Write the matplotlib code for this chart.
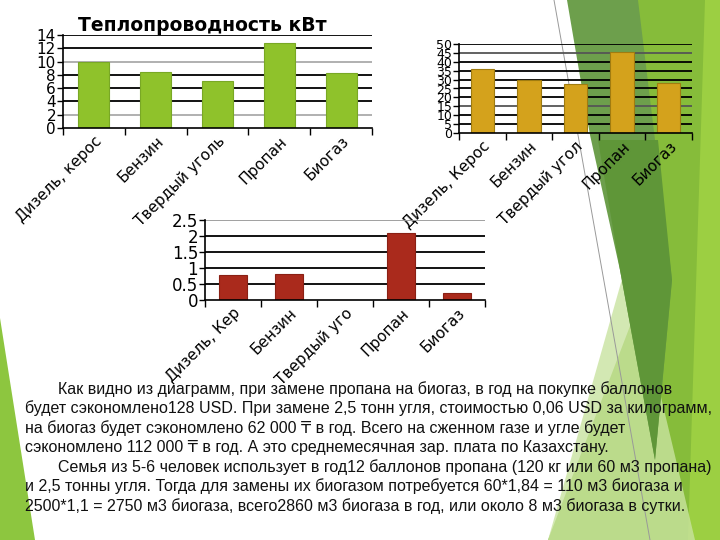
import matplotlib
matplotlib.use("Agg")
import matplotlib.pyplot as plt
from matplotlib.patches import Polygon

W, H = 720, 540

# chart data
categories_heat = ["Дизель, керос", "Бензин", "Твердый уголь", "Пропан", "Биогаз"]
heat_kw = [10, 8.5, 7.1, 12.8, 8.3]
heat_ticks = [0, 2, 4, 6, 8, 10, 12, 14]

categories_mid = ["Дизель, Керос", "Бензин", "Твердый угол", "Пропан", "Биогаз"]
mid_values = [36, 30, 27.5, 45.7, 28]
mid_ticks = [0, 5, 10, 15, 20, 25, 30, 35, 40, 45, 50]

categories_low = ["Дизель, Кер", "Бензин", "Твердый уго", "Пропан", "Биогаз"]
low_values = [0.78, 0.81, 0, 2.1, 0.21]
low_ticks = [0, 0.5, 1, 1.5, 2, 2.5]
low_tick_labels = ["0", "0.5", "1", "1.5", "2", "2.5"]

body_lines = [
    "Как видно из диаграмм, при замене пропана на биогаз, в год на покупке баллонов",
    "будет сэкономлено128 USD. При замене 2,5 тонн угля, стоимостью 0,06 USD за килограмм,",
    "на биогаз будет сэкономлено 62 000 ₸ в год. Всего на сженном газе и угле будет",
    "сэкономлено 112 000 ₸ в год. А это среднемесячная зар. плата по Казахстану.",
    "Семья из 5-6 человек использует в год12 баллонов пропана (120 кг или 60 м3 пропана)",
    "и 2,5 тонны угля. Тогда для замены их биогазом потребуется 60*1,84 = 110 м3 биогаза и",
    "2500*1,1 = 2750 м3 биогаза, всего2860 м3 биогаза в год, или около 8 м3 биогаза в сутки.",
]
body_indent = [True, False, False, False, True, False, False]


def px_axes(fig, left, top, right, bottom):
    return fig.add_axes([left / W, 1 - bottom / H, (right - left) / W, (bottom - top) / H])


def draw_bars(ax, cats, vals, ticks, tick_labels, ymax, color, edge, grid_colors, label_size, ytick_size):
    x = list(range(len(cats)))
    ax.set_facecolor("none")
    for t, gc in zip(ticks[1:], grid_colors):
        ax.axhline(t, color=gc, lw=1.3, zorder=1)
    ax.bar(x, vals, width=0.5, color=color, edgecolor=edge, lw=0.8, zorder=2)
    ax.set_xlim(-0.5, len(cats) - 0.5)
    ax.set_ylim(0, ymax)
    ax.set_yticks(ticks)
    ax.set_yticklabels(tick_labels, fontsize=ytick_size)
    ax.set_xticks([i - 0.5 for i in range(len(cats) + 1)])
    ax.set_xticklabels([])
    ax.set_xticks(x, minor=True)
    ax.set_xticklabels(cats, minor=True, rotation=45, ha="right", va="top",
                       rotation_mode="anchor", fontsize=label_size)
    ax.tick_params(axis="x", which="minor", length=0, pad=4)
    ax.tick_params(axis="x", which="major", length=5, width=1, direction="out")
    ax.tick_params(axis="y", length=4, width=1, pad=1)
    for s in ["top", "right"]:
        ax.spines[s].set_visible(False)
    for s in ["left", "bottom"]:
        ax.spines[s].set_linewidth(1.2)
        ax.spines[s].set_color("black")


fig = plt.figure(figsize=(7.2, 5.4), dpi=100)

# slide decoration
deco = fig.add_axes([0, 0, 1, 1])
deco.set_xlim(0, W)
deco.set_ylim(H, 0)
deco.axis("off")
shapes = [
    ([(637, 0), (720, 0), (720, 540), (548, 540), (640, 300)], "#86bc3a", 1),
    ([(705, 0), (720, 0), (720, 540), (688, 540)], "#9ccf42", 1),
    ([(628, 258), (695, 540), (548, 540)], "#c9e3a0", 0.8),
    ([(555, 0), (638, 0), (672, 280), (655, 460), (620, 270), (590, 135), (567, 0)], "#6d9f4c", 1),
    ([(598, 140), (658, 140), (672, 280), (655, 460), (620, 270)], "#5f9638", 1),
    ([(0, 318), (35, 540), (0, 540)], "#8dc63f", 1),
]
for pts, c, a in shapes:
    deco.add_patch(Polygon(pts, closed=True, color=c, alpha=a, lw=0))
deco.plot([554, 650], [0, 540], color="#999999", lw=0.7)

# body text
for i, line in enumerate(body_lines):
    x0 = 58 if body_indent[i] else 25
    deco.text(x0, 389 + i * 19.5, line, fontsize=11.5,
              family=["Liberation Sans", "DejaVu Sans"],
              color="#111111", va="center", ha="left")

# chart 1
ax1 = px_axes(fig, 63, 35, 372, 128)
draw_bars(ax1, categories_heat, heat_kw, heat_ticks, [str(t) for t in heat_ticks], 14,
          "#8fc22b", "#79a825",
          ["#aaaaaa", "black", "black", "black", "#aaaaaa", "black", "black"], 11, 11)
ax1.set_title("Теплопроводность кВт", fontsize=13.5, fontweight="bold", pad=1, x=0.45)

# chart 2
ax2 = px_axes(fig, 459, 44, 692, 133)
draw_bars(ax2, categories_mid, mid_values, mid_ticks, [str(t) for t in mid_ticks], 50,
          "#d4a21c", "#a07c10",
          ["black", "black", "#555555", "black", "black", "black", "black", "black", "#555555", "black"], 11, 9)

# chart 3
ax3 = px_axes(fig, 205, 220, 485, 300)
draw_bars(ax3, categories_low, low_values, low_ticks, low_tick_labels, 2.5,
          "#aa2a1c", "#8a2014",
          ["black", "black", "black", "black", "#999999"], 11, 12)

fig.savefig("out.png", dpi=100)
